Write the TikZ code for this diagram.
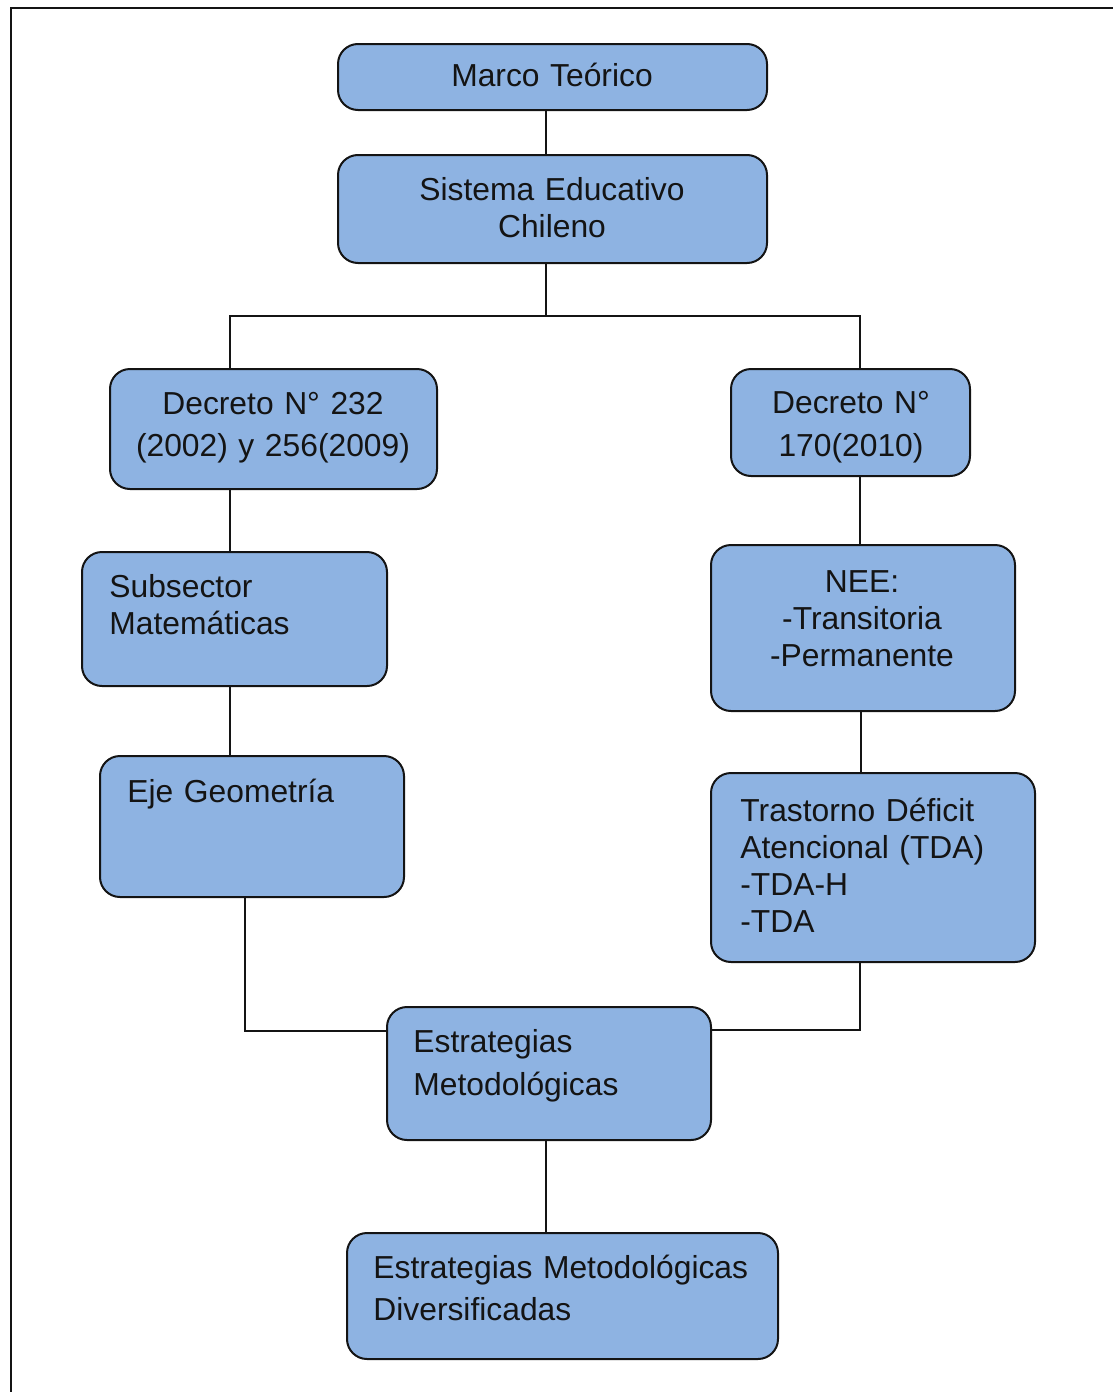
\documentclass[tikz,border=0pt]{standalone}
\usepackage{fontspec}
\setmainfont{Liberation Sans}
\usetikzlibrary{calc}
\definecolor{boxfill}{RGB}{142,179,226}
\definecolor{ink}{RGB}{20,20,20}
\begin{document}
\begin{tikzpicture}[x=0.5pt,y=-0.5pt,
  box/.style={rectangle, draw=ink, line width=1pt, fill=boxfill, rounded corners=10pt, inner sep=0pt},
  sz/.style 2 args={minimum width=#1*0.5pt, minimum height=#2*0.5pt},
  gap/.style={font=\fontsize{15.9}{#1}\selectfont},
  lbl/.style={inner sep=0pt, text=ink, text width=210pt, gap=18.5pt},
  lblL/.style={lbl, align=left, anchor=base west},
  lblC/.style={lbl, align=center, anchor=base},
  link/.style={draw=ink, line width=0.65pt}]

\useasboundingbox (0,0) rectangle (1113,1392);
% page frame
\draw[ink, line width=1.2pt] (11,1400) -- (11,8) -- (1120,8);

% boxes
\node[box, sz={429}{66}]  (marco)     at (552.5,77)    {};
\node[box, sz={429}{108}] (sistema)   at (552.5,209)   {};
\node[box, sz={327}{120}] (dec232)    at (273.5,429)   {};
\node[box, sz={239}{107}] (dec170)    at (850.5,422.5) {};
\node[box, sz={305}{134}] (subsector) at (234.5,619)   {};
\node[box, sz={304}{166}] (nee)       at (863,628)     {};
\node[box, sz={304}{141}] (eje)       at (252,826.5)   {};
\node[box, sz={324}{189}] (tda)       at (873,867.5)   {};
\node[box, sz={324}{133}] (estrat)    at (549,1073.5)  {};
\node[box, sz={431}{126}] (divers)    at (562.5,1296)  {};

% box texts
\node[lblC] (marcoT)   at (552,86)  {Marco Teórico};
\node[lblC] (sistemaT) at (552,200) {Sistema Educativo\\Chileno};
\node[lblC, gap=21pt]   (dec232T) at (273,414) {Decreto N° 232\\(2002) y 256(2009)};
\node[lblC, gap=21.5pt] (dec170T) at (851,413) {Decreto N°\\170(2010)};
\node[lblL] (subsectorT) at (109,597) {Subsector\\Matemáticas};
\node[lblC] (neeT)       at (862,592) {NEE:\\-Transitoria\\-Permanente};
\node[lblL] (ejeT)       at (127,802) {Eje Geometría};
\node[lblL] (tdaT)       at (740,821) {Trastorno Déficit\\Atencional (TDA)\\-TDA-H\\-TDA};
\node[lblL, gap=21.5pt] (estratT) at (413,1052) {Estrategias\\Metodológicas};
\node[lblL, gap=21pt]   (diversT) at (373,1278) {Estrategias Metodológicas\\Diversificadas};

% routing points
\coordinate (spine) at (546,0);
\coordinate (busL)  at (230,316);
\coordinate (busR)  at (860,316);
\coordinate (jL)    at (245,1031);
\coordinate (jR)    at (860,1030);
\coordinate (colR)  at (861,0);

% connectors
\draw[link] (marco.south -| spine) -- (sistema.north -| spine);
\draw[link] (sistema.south -| spine) -- (spine |- busL);
\draw[link] (dec232.north -| busL) -- (busL) -- (busR) -- (dec170.north -| busR);
\draw[link] (dec232.south -| busL) -- (subsector.north -| busL);
\draw[link] (subsector.south -| busL) -- (eje.north -| busL);
\draw[link] (eje.south -| jL) -- (jL) -- (jL -| estrat.west);
\draw[link] (dec170.south -| busR) -- (nee.north -| busR);
\draw[link] (nee.south -| colR) -- (tda.north -| colR);
\draw[link] (tda.south -| jR) -- (jR) -- (jR -| estrat.east);
\draw[link] (estrat.south -| spine) -- (divers.north -| spine);
\end{tikzpicture}
\end{document}
